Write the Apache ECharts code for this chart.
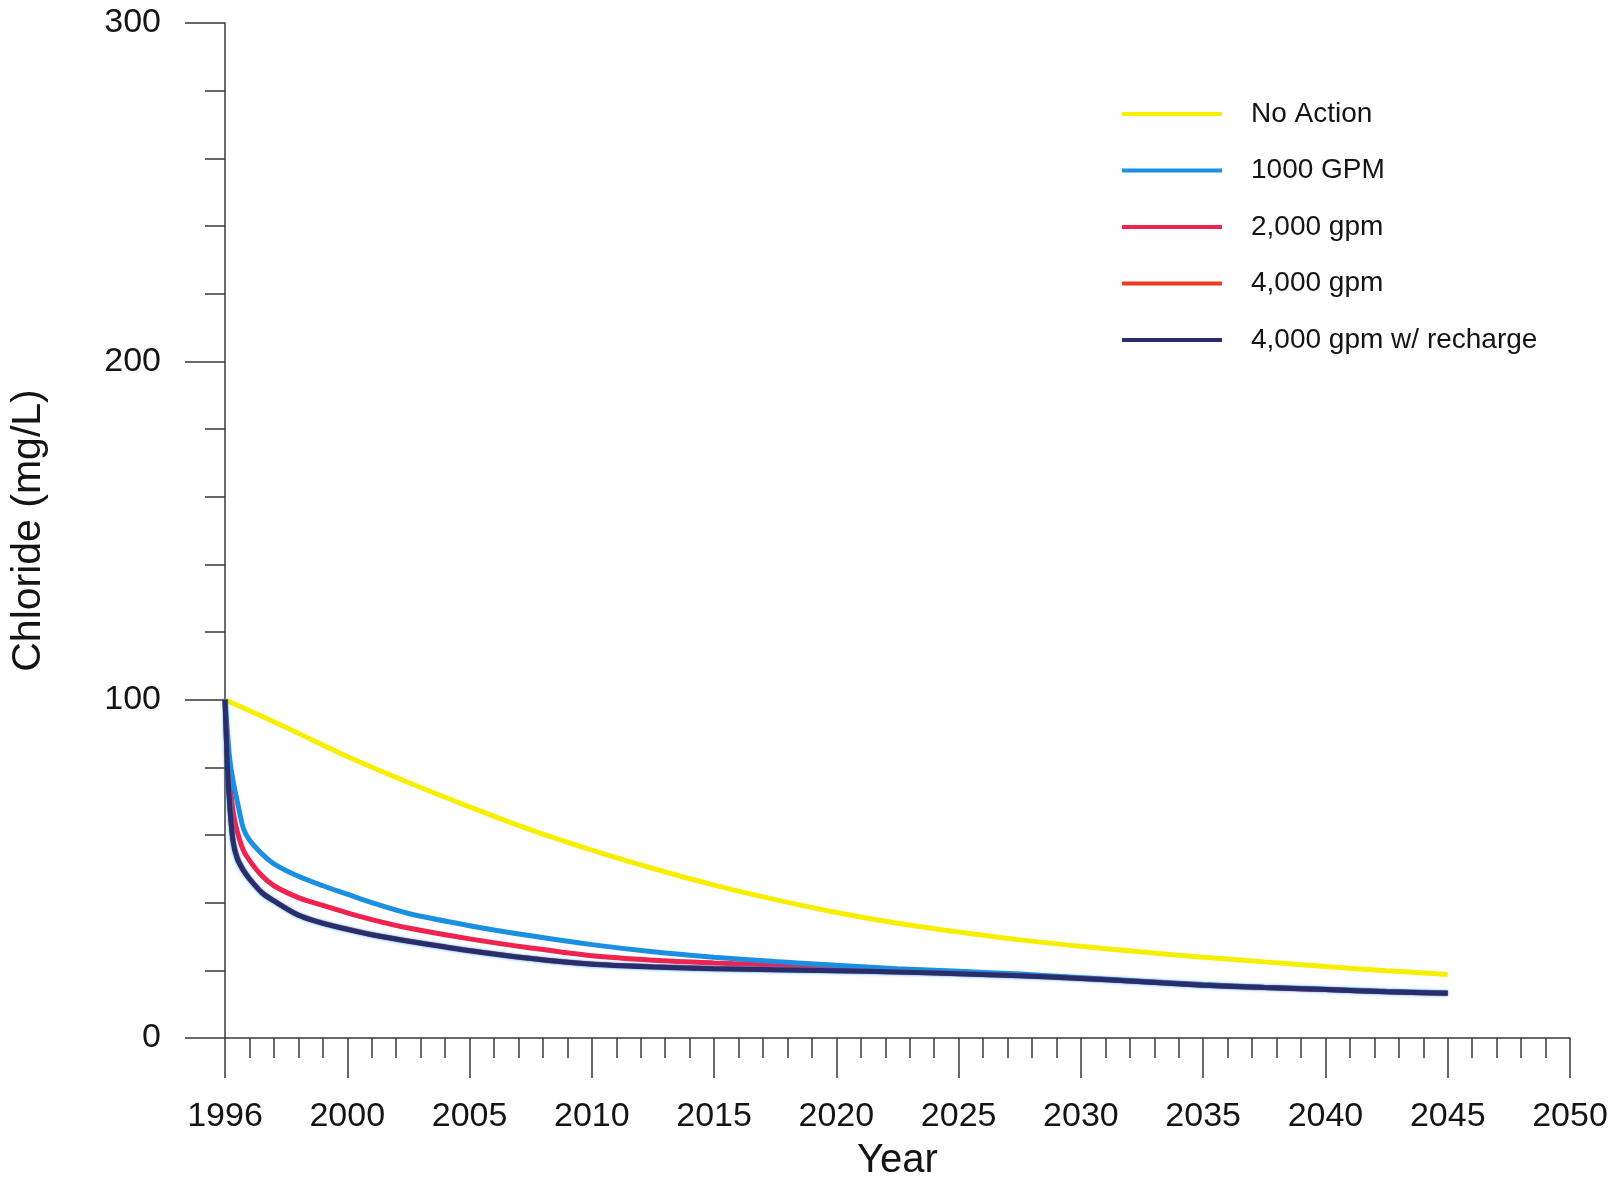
<!DOCTYPE html>
<html>
<head>
<meta charset="utf-8">
<title>Chloride projections</title>
<script src="https://cdn.jsdelivr.net/npm/echarts@6/dist/echarts.min.js"></script>
<style>
  html, body { margin: 0; padding: 0; background: #ffffff; overflow: hidden; }
  #chart { width: 1614px; height: 1186px; }
</style>
</head>
<body>
<div id="chart"></div>
<script>
// Tick labels along the time axis (one per 5-year step from the start of the run)
const tickLabels = ['1996', '2000', '2005', '2010', '2015', '2020', '2025', '2030', '2035', '2040', '2045', '2050'];

// Elapsed years from the start of the simulation
const yearsNoAction = [0, 2.5, 5, 7.5, 10, 12.5, 15, 17.5, 20, 22.5, 25, 27.5, 30, 32.5, 35, 37.5, 40, 42.5, 45, 47.5, 50];
const yearsPumping = [0, 0.1, 0.2, 0.33, 0.5, 0.75, 1, 1.5, 2, 3, 4, 5, 6, 7.5, 10, 12.5, 15, 17.5, 20, 22.5, 25, 27.5, 30, 32.5, 35, 37.5, 40, 42.5, 45, 47.5, 50];

// Chloride concentration (mg/L)
const noAction = [100, 91.8, 83.2, 75.5, 68.3, 61.5, 55.5, 50.1, 45.2, 40.9, 37.1, 33.9, 31.3, 29.0, 27.1, 25.4, 23.9, 22.5, 21.1, 19.9, 18.8];
const gpm1000 = [100, 90, 82, 76, 70, 62, 58.5, 54.5, 51.5, 47.8, 45, 42.5, 40, 36.8, 33.2, 30.2, 27.6, 25.5, 23.9, 22.6, 21.5, 20.5, 19.7, 18.9, 17.8, 16.8, 15.8, 15.0, 14.4, 13.8, 13.3];
const gpm2000 = [100, 85, 76, 67, 61, 55.5, 52.5, 48, 45, 41.5, 39.2, 37, 35, 32.5, 29.3, 26.6, 24.3, 23.0, 22.2, 21.6, 21.0, 20.2, 19.4, 18.6, 17.7, 16.7, 15.7, 14.9, 14.3, 13.7, 13.2];
const gpm4000 = [100, 80.5, 68.5, 58.5, 53.5, 49.8, 47.2, 43.1, 40.6, 36.4, 34.0, 32.2, 30.6, 28.7, 25.9, 23.6, 21.9, 21.1, 20.6, 20.2, 19.9, 19.5, 19.0, 18.4, 17.6, 16.6, 15.6, 14.9, 14.3, 13.7, 13.2];
const gpm4000Recharge = [100, 80, 68, 58, 53, 49.5, 47, 43, 40.5, 36.3, 33.9, 32.1, 30.5, 28.6, 25.8, 23.5, 21.8, 21.0, 20.5, 20.2, 19.9, 19.5, 19.0, 18.4, 17.6, 16.6, 15.6, 14.9, 14.3, 13.7, 13.2];

const seriesNames = ['No Action', '1000 GPM', '2,000 gpm', '4,000 gpm', '4,000 gpm w/ recharge'];

const pair = (xs, ys) => xs.map((x, i) => [x, ys[i]]);

const FONT = '"Liberation Sans", Arial, Helvetica, sans-serif';
const AXIS_COLOR = '#383838';
const TEXT_COLOR = '#141414';

function lineSeries(name, data, color, z, lineStyle) {
  return {
    name: name,
    type: 'line',
    data: data,
    symbol: 'none',
    showSymbol: false,
    smooth: 0.3,
    z: z,
    lineStyle: Object.assign({ color: color, width: 5 }, lineStyle || {}),
    itemStyle: { color: color }
  };
}

const chart = echarts.init(document.getElementById('chart'), null, { renderer: 'canvas' });

chart.setOption({
  backgroundColor: '#ffffff',
  animation: false,
  grid: { left: 222, right: 44, top: 23, bottom: 143, containLabel: false },
  legend: {
    orient: 'vertical',
    left: 1117,
    top: 95,
    icon: 'rect',
    itemWidth: 100,
    itemHeight: 4,
    itemGap: 28.5,
    data: seriesNames,
    textStyle: {
      fontFamily: FONT,
      fontSize: 28,
      color: TEXT_COLOR,
      lineHeight: 28,
      padding: [0, 0, 0, 24]
    }
  },
  xAxis: {
    type: 'value',
    min: 0,
    max: 55,
    interval: 5,
    name: 'Year',
    nameLocation: 'middle',
    nameGap: 103,
    nameTextStyle: { fontFamily: FONT, fontSize: 40, color: TEXT_COLOR },
    axisLine: { show: true, onZero: false, lineStyle: { color: AXIS_COLOR, width: 1.5 } },
    axisTick: { show: true, length: 40, lineStyle: { color: AXIS_COLOR, width: 1.5 } },
    minorTick: { show: true, splitNumber: 5, length: 20, lineStyle: { color: AXIS_COLOR, width: 1.5 } },
    splitLine: { show: false },
    axisLabel: {
      margin: 62,
      fontFamily: FONT,
      fontSize: 34,
      color: TEXT_COLOR,
      formatter: v => tickLabels[Math.round(v / 5)]
    }
  },
  yAxis: {
    type: 'value',
    min: 0,
    max: 300,
    interval: 100,
    name: 'Chloride (mg/L)',
    nameLocation: 'middle',
    nameRotate: 90,
    nameGap: 176,
    nameTextStyle: { fontFamily: FONT, fontSize: 41, color: TEXT_COLOR },
    axisLine: { show: true, lineStyle: { color: AXIS_COLOR, width: 1.5 } },
    axisTick: { show: true, length: 40, lineStyle: { color: AXIS_COLOR, width: 1.5 } },
    minorTick: { show: true, splitNumber: 5, length: 20, lineStyle: { color: AXIS_COLOR, width: 1.5 } },
    splitLine: { show: false },
    axisLabel: { margin: 64, fontFamily: FONT, fontSize: 34, color: TEXT_COLOR }
  },
  series: [
    lineSeries(seriesNames[0], pair(yearsNoAction, noAction), '#f8ee00', 2),
    lineSeries(seriesNames[1], pair(yearsPumping, gpm1000), '#1b8fe2', 4),
    lineSeries(seriesNames[2], pair(yearsPumping, gpm2000), '#f0224e', 3),
    lineSeries(seriesNames[3], pair(yearsPumping, gpm4000), '#ec3a22', 5),
    lineSeries(seriesNames[4], pair(yearsPumping, gpm4000Recharge), '#2a2d6c', 6,
      { shadowColor: 'rgba(30,150,230,0.9)', shadowBlur: 3 })
  ]
});
</script>
</body>
</html>
